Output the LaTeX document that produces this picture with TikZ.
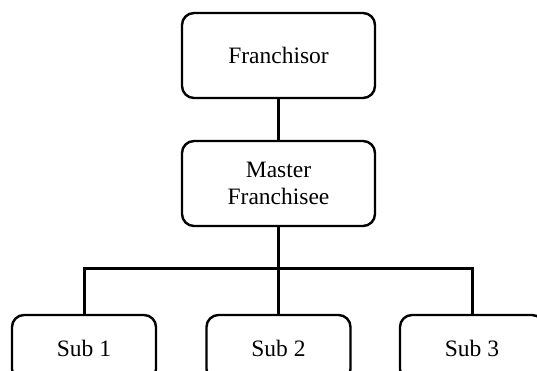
\documentclass[tikz,border=0pt]{standalone}
\usepackage{fontspec}
\setmainfont{Liberation Serif}
\begin{document}
\begin{tikzpicture}[x=1pt,y=-1pt,
  orgbox/.style={draw, line width=2.4pt, rounded corners=12pt, align=center,
    font=\fontsize{23.5}{27.5}\selectfont, inner sep=0pt},
  topbox/.style={orgbox, minimum width=193pt, minimum height=85pt},
  subbox/.style={orgbox, minimum width=144pt, minimum height=66pt},
  link/.style={line width=3pt}]
  \useasboundingbox (0,0) rectangle (537,371);
  % upper levels
  \node[topbox] (fr) at (278.5,55.5) {Franchisor};
  \node[topbox] (ms) at (278.5,183.5) {Master\\Franchisee};
  % sub-franchisees
  \node[subbox] (s1) at (84,348) {Sub 1};
  \node[subbox] (s2) at (278.5,348) {Sub 2};
  \node[subbox] (s3) at (472,348) {Sub 3};
  \coordinate (jn) at (278.5,268);
  % connectors
  \draw[link] (fr.south) -- (ms.north);
  \draw[link] (ms.south) -- (s2.north);
  \draw[link] (s1.north) |- (jn) -| (s3.north);
\end{tikzpicture}
\end{document}
